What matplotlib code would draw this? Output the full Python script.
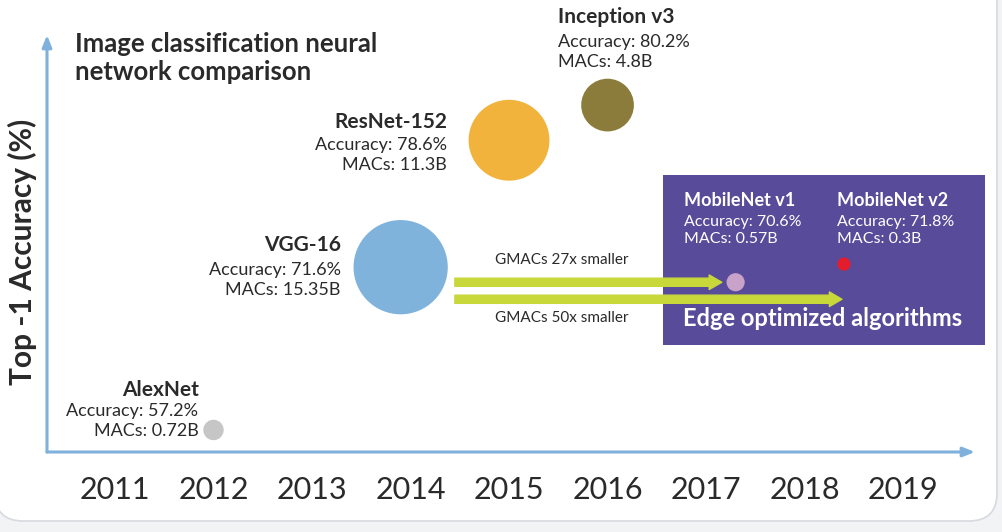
import numpy as np
import matplotlib.pyplot as plt
from matplotlib.patches import FancyBboxPatch, Rectangle
from matplotlib.transforms import offset_copy

plt.rcParams['font.family'] = ['Lato', 'DejaVu Sans']

# Data
models = ['AlexNet', 'VGG-16', 'ResNet-152', 'Inception v3', 'MobileNet v1', 'MobileNet v2']
years = [2012, 2013.9, 2015, 2016, 2017.3, 2018.4]
accuracy = [57.2, 71.6, 78.6, 80.2, 70.6, 71.8]
macs = [0.72, 15.35, 11.3, 4.8, 0.57, 0.3]
year_ticks = [2011, 2012, 2013, 2014, 2015, 2016, 2017, 2018, 2019]

colors = ['#c6c6c6', '#80b3dc', '#f2b33d', '#8b7c3b', '#c9a2c9', '#e31d2b']
AXIS_COLOR = '#7fb1dc'
ARROW_COLOR = '#c8d83a'
BOX_COLOR = '#574b9a'
TEXT = '#2a2a2a'

PX = 0.72  # pixels -> points at 100 dpi

fig = plt.figure(figsize=(10.02, 5.32), dpi=100, facecolor='#f2f3f5')

# white card with rounded corners
card = FancyBboxPatch((-0.05, 0.11), 10.02, 5.5,
                      boxstyle='round,pad=0,rounding_size=0.28',
                      transform=fig.dpi_scale_trans, facecolor='white',
                      edgecolor='#d6d9de', linewidth=1.2, zorder=-5)
fig.patches.append(card)

ax = fig.add_axes([47 / 1002, 80 / 532, (975 - 47) / 1002, (452 - 35) / 532])
ax.patch.set_visible(False)
for s in ax.spines.values():
    s.set_visible(False)

# the original spaces accuracy unevenly, an exponential scale follows it well
ax.set_yscale('function', functions=(lambda a: np.exp(a / 22.0),
                                     lambda v: 22.0 * np.log(v)))
ax.set_xlim(2010.31, 2019.73)
ax.set_ylim(54.26, 83.08)

ax.set_xticks(year_ticks)
ax.set_xticklabels([str(y) for y in year_ticks])
ax.tick_params(axis='x', length=0, pad=17, labelsize=22, labelcolor=TEXT)
ax.set_yticks([])
ax.minorticks_off()
ax.tick_params(axis='y', which='both', length=0, labelleft=False)

# axis arrows
arrow_kw = dict(arrowstyle='-|>,head_length=0.7,head_width=0.28', color=AXIS_COLOR,
                lw=2.2, shrinkA=0, shrinkB=0)
ax.annotate('', xy=(1, 0), xytext=(0, 0), xycoords='axes fraction', arrowprops=arrow_kw)
ax.annotate('', xy=(0, 1), xytext=(0, 0), xycoords='axes fraction', arrowprops=arrow_kw)

ax.set_ylabel('Top -1 Accuracy (%)', fontsize=21.5, fontweight='bold', color=TEXT)
ax.yaxis.set_label_coords(-0.011, 0.48)

# edge box
ax.add_patch(Rectangle((6.63, 1.87), 3.22, 1.70, transform=fig.dpi_scale_trans,
                       facecolor=BOX_COLOR, edgecolor='none', clip_on=False, zorder=1))
ax.text(6.83, 2.14, 'Edge optimized algorithms', transform=fig.dpi_scale_trans,
        color='white', fontsize=17, fontweight='bold', va='center', ha='left', zorder=5)

# bubbles, area follows MACs
ax.scatter(years, accuracy, s=[300 * m for m in macs], c=colors, edgecolors='none',
           zorder=3, clip_on=False)

# labels: (ha, dx, name dy, detail dy) in pixels, dy downward
label_pos = {
    'AlexNet': ('right', -15, -40, -9),
    'VGG-16': ('right', -60, -22, 13),
    'ResNet-152': ('right', -62, -18, 15),
    'Inception v3': ('left', -50, -88, -53),
}
for name, x, acc, m in zip(models, years, accuracy, macs):
    detail = f'Accuracy: {acc}%\nMACs: {m}B'
    if name in label_pos:
        ha, dx, ndy, ddy = label_pos[name]
        ax.annotate(name, (x, acc), xytext=(dx * PX, -ndy * PX), textcoords='offset points',
                    ha=ha, va='center', fontsize=15, fontweight='bold', color=TEXT)
        ax.annotate(detail, (x, acc), xytext=(dx * PX, -ddy * PX), textcoords='offset points',
                    ha=ha, va='center', fontsize=13, color=TEXT, linespacing=1.28)
    else:
        dx = -52 if name == 'MobileNet v1' else -7
        ax.annotate(name, (x, 332), xycoords=('data', 'figure pixels'),
                    xytext=(dx * PX, 0), textcoords='offset points',
                    ha='left', va='center', fontsize=13, fontweight='bold', color='white')
        ax.annotate(detail, (x, 301.5), xycoords=('data', 'figure pixels'),
                    xytext=(dx * PX, 0), textcoords='offset points',
                    ha='left', va='center', fontsize=11.5, color='white', linespacing=1.3)

# arrows from VGG-16 towards the MobileNets
v1_acc = accuracy[4]
lower = offset_copy(ax.transData, fig=fig, y=-17, units='dots')
simple = dict(arrowstyle='simple,head_length=0.65,head_width=0.75,tail_width=0.42',
              mutation_scale=14, color=ARROW_COLOR, shrinkA=0, shrinkB=0)
ax.annotate('', xy=(2017.16, v1_acc), xytext=(2014.45, v1_acc), arrowprops=simple, zorder=4)
ax.annotate('', xy=(2018.38, v1_acc), xytext=(2014.45, v1_acc), xycoords=lower,
            textcoords=lower, arrowprops=simple, zorder=4)
ax.annotate('GMACs 27x smaller', (2015.54, v1_acc), xytext=(0, 22 * PX),
            textcoords='offset points', ha='center', va='center', fontsize=11, color=TEXT)
ax.annotate('GMACs 50x smaller', (2015.54, v1_acc), xycoords=lower, xytext=(0, -19 * PX),
            textcoords='offset points', ha='center', va='center', fontsize=11, color=TEXT)

# title
ax.text(0.75, 5.0, 'Image classification neural\nnetwork comparison',
        transform=fig.dpi_scale_trans, ha='left', va='top', fontsize=18.5,
        fontweight='bold', color=TEXT, linespacing=1.2)

fig.savefig('out.png', dpi=100, facecolor=fig.get_facecolor())
